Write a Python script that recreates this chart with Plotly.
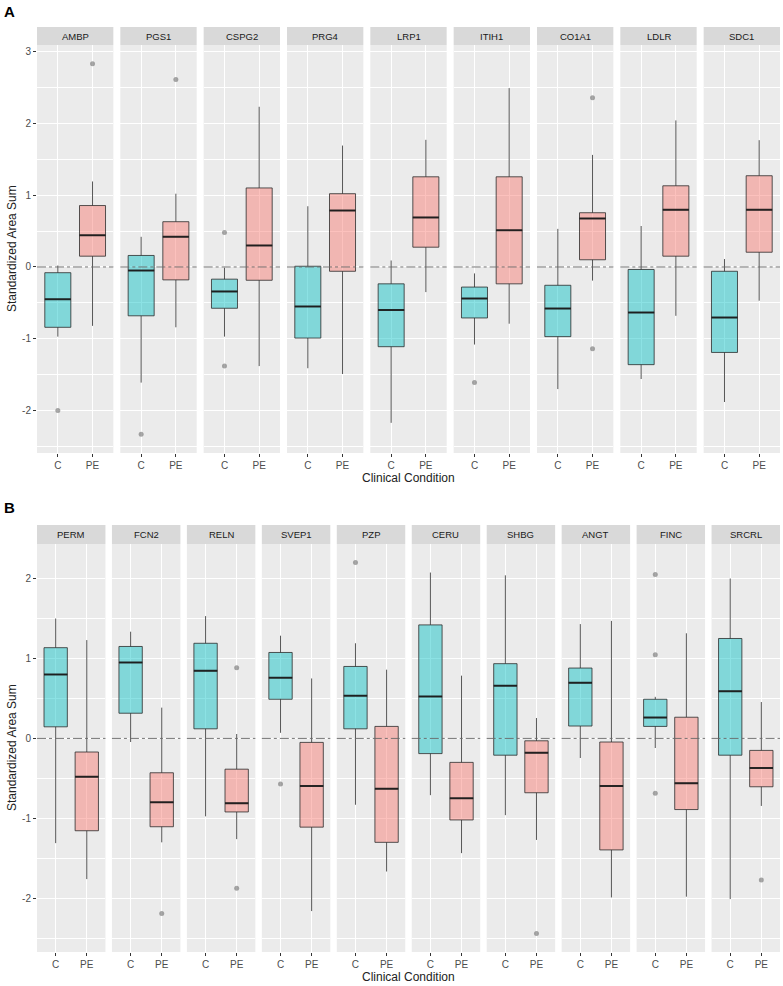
import plotly.graph_objects as go

# ---------------- data ----------------
A_GENES = ["AMBP", "PGS1", "CSPG2", "PRG4", "LRP1", "ITIH1", "CO1A1", "LDLR", "SDC1"]
A_C_LOW = [-0.97, -1.61, -0.97, -1.41, -2.17, -1.08, -1.70, -1.56, -1.88]
A_C_Q1 = [-0.84, -0.68, -0.575, -0.99, -1.11, -0.71, -0.97, -1.36, -1.19]
A_C_MED = [-0.45, -0.05, -0.34, -0.55, -0.60, -0.44, -0.58, -0.635, -0.705]
A_C_Q3 = [-0.08, 0.16, -0.17, 0.01, -0.235, -0.28, -0.255, -0.035, -0.06]
A_C_HIGH = [0.02, 0.42, -0.01, 0.845, 0.09, -0.09, 0.53, 0.57, 0.11]
A_C_OUT = [[-2.0], [-2.33], [0.48, -1.38], [], [], [-1.61], [], [], []]

A_PE_LOW = [-0.82, -0.84, -1.38, -1.49, -0.35, -0.79, -0.19, -0.68, -0.47]
A_PE_Q1 = [0.15, -0.18, -0.185, -0.06, 0.275, -0.235, 0.10, 0.15, 0.205]
A_PE_MED = [0.44, 0.42, 0.30, 0.785, 0.69, 0.51, 0.675, 0.795, 0.795]
A_PE_Q3 = [0.855, 0.63, 1.10, 1.02, 1.255, 1.255, 0.755, 1.13, 1.27]
A_PE_HIGH = [1.19, 1.02, 2.23, 1.69, 1.77, 2.49, 1.56, 2.04, 1.765]
A_PE_OUT = [[2.83], [2.61], [], [], [], [], [2.355, -1.14], [], []]

B_GENES = ["PERM", "FCN2", "RELN", "SVEP1", "PZP", "CERU", "SHBG", "ANGT", "FINC", "SRCRL"]
B_C_LOW = [-1.31, -0.045, -0.975, 0.07, -0.83, -0.71, -0.96, -0.245, -0.12, -2.01]
B_C_Q1 = [0.145, 0.315, 0.12, 0.49, 0.12, -0.19, -0.21, 0.155, 0.15, -0.21]
B_C_MED = [0.80, 0.95, 0.845, 0.76, 0.535, 0.525, 0.66, 0.695, 0.26, 0.59]
B_C_Q3 = [1.135, 1.15, 1.19, 1.075, 0.90, 1.42, 0.935, 0.88, 0.49, 1.25]
B_C_HIGH = [1.50, 1.335, 1.53, 1.285, 1.19, 2.075, 2.04, 1.43, 0.52, 2.0]
B_C_OUT = [[], [], [], [-0.57], [2.20], [], [], [], [2.05, 1.045, -0.685], []]

B_PE_LOW = [-1.76, -1.30, -1.26, -2.16, -1.665, -1.435, -1.27, -1.99, -1.98, -0.845]
B_PE_Q1 = [-1.155, -1.105, -0.92, -1.11, -1.30, -1.02, -0.68, -1.395, -0.89, -0.605]
B_PE_MED = [-0.48, -0.80, -0.81, -0.595, -0.63, -0.75, -0.18, -0.595, -0.56, -0.37]
B_PE_Q3 = [-0.17, -0.43, -0.385, -0.05, 0.15, -0.30, -0.03, -0.045, 0.265, -0.15]
B_PE_HIGH = [1.23, 0.385, 0.055, 0.75, 0.86, 0.785, 0.255, 1.47, 1.315, 0.455]
B_PE_OUT = [[], [-2.19], [0.885, -1.875], [], [], [], [-2.44], [], [], [-1.77]]

CONDITIONS = ["C", "PE"]
A_YTICKS = [-2, -1, 0, 1, 2, 3]
B_YTICKS = [-2, -1, 0, 1, 2]
X_TITLE = "Clinical Condition"
Y_TITLE = "Standardized Area Sum"

# ---------------- layout geometry (pixels) ----------------
W, H = 783, 986
LEFT, RIGHT = 37, 780
FONT = "Liberation Sans, Arial, sans-serif"
C_FILL = "rgba(0,191,196,0.45)"
PE_FILL = "rgba(248,118,109,0.45)"
EDGE = "rgba(40,40,40,0.78)"
MED = "rgba(25,25,25,0.9)"
BOXW = 0.75


def fx(p):
    return p / W


def fy(p):
    return 1 - p / H


panels = [
    dict(label="A", genes=A_GENES, yr=[-2.59, 3.09], ticks=A_YTICKS, strip=27, top=45, bot=453,
         gap=7, label_y=11, xt_y=478,
         c=(A_C_LOW, A_C_Q1, A_C_MED, A_C_Q3, A_C_HIGH, A_C_OUT),
         pe=(A_PE_LOW, A_PE_Q1, A_PE_MED, A_PE_Q3, A_PE_HIGH, A_PE_OUT)),
    dict(label="B", genes=B_GENES, yr=[-2.672, 2.432], ticks=B_YTICKS, strip=525, top=544, bot=952,
         gap=6.5, label_y=508, xt_y=977,
         c=(B_C_LOW, B_C_Q1, B_C_MED, B_C_Q3, B_C_HIGH, B_C_OUT),
         pe=(B_PE_LOW, B_PE_Q1, B_PE_MED, B_PE_Q3, B_PE_HIGH, B_PE_OUT)),
]

fig = go.Figure()
layout = {}
shapes = []
annotations = []
axis_idx = 0

for pi, P in enumerate(panels):
    yname = "y" if pi == 0 else "y2"
    ylay = "yaxis" if pi == 0 else "yaxis2"
    n = len(P["genes"])
    fw = (RIGHT - LEFT - (n - 1) * P["gap"]) / n
    first_x = None
    for gi, gene in enumerate(P["genes"]):
        axis_idx += 1
        xname = "x" if axis_idx == 1 else f"x{axis_idx}"
        xlay = "xaxis" if axis_idx == 1 else f"xaxis{axis_idx}"
        if first_x is None:
            first_x = xname
        x0 = LEFT + gi * (fw + P["gap"])
        x1 = x0 + fw
        layout[xlay] = dict(
            domain=[fx(x0), fx(x1)], range=[-0.6, 1.6], anchor=yname,
            tickmode="array", tickvals=[0, 1], ticktext=CONDITIONS,
            showgrid=True, gridcolor="white", gridwidth=1.1, zeroline=False,
            ticks="outside", ticklen=3, tickcolor="#333333", tickwidth=1,
            tickfont=dict(size=10, color="#4D4D4D", family=FONT),
            showline=False, fixedrange=True,
        )
        for ci, (stats, fill) in enumerate([(P["c"], C_FILL), (P["pe"], PE_FILL)]):
            lo, q1, med, q3, hi, outs = stats
            fig.add_trace(go.Box(
                x=[ci], q1=[q1[gi]], median=[med[gi]], q3=[q3[gi]],
                lowerfence=[lo[gi]], upperfence=[hi[gi]],
                width=BOXW, whiskerwidth=0, fillcolor=fill,
                line=dict(color=EDGE, width=1), boxpoints=False,
                xaxis=xname, yaxis=yname, showlegend=False, hoverinfo="skip",
            ))
            fig.add_trace(go.Scatter(
                x=[ci - BOXW / 2, ci + BOXW / 2], y=[med[gi], med[gi]], mode="lines",
                line=dict(color=MED, width=2), xaxis=xname, yaxis=yname,
                showlegend=False, hoverinfo="skip",
            ))
            if outs[gi]:
                fig.add_trace(go.Scatter(
                    x=[ci] * len(outs[gi]), y=outs[gi], mode="markers",
                    marker=dict(size=5, color="rgba(110,110,110,0.6)", line=dict(width=0)),
                    xaxis=xname, yaxis=yname, showlegend=False, hoverinfo="skip",
                ))
        # dash-dot reference line at 0
        shapes.append(dict(type="line", xref=f"{xname} domain", x0=0, x1=1,
                           yref=yname, y0=0, y1=0,
                           line=dict(color="#666666", width=0.9, dash="dashdot"), layer="above"))
        # strip
        shapes.append(dict(type="rect", xref="paper", yref="paper",
                           x0=fx(x0), x1=fx(x1), y0=fy(P["top"]), y1=fy(P["strip"]),
                           fillcolor="#D9D9D9", line=dict(width=0), layer="below"))
        annotations.append(dict(text=gene, xref="paper", yref="paper",
                                x=fx((x0 + x1) / 2), y=fy((P["top"] + P["strip"]) / 2),
                                showarrow=False, xanchor="center", yanchor="middle",
                                font=dict(size=9.5, color="#1A1A1A", family=FONT)))
    minor_vals = [t + 0.5 for t in range(int(P["yr"][0]) - 1, int(P["yr"][1]) + 1)]
    layout[ylay] = dict(
        domain=[fy(P["bot"]), fy(P["top"])], range=P["yr"], anchor=first_x,
        tickmode="array", tickvals=P["ticks"], ticktext=[str(t) for t in P["ticks"]],
        showgrid=True, gridcolor="white", gridwidth=1.1, zeroline=False,
        minor=dict(tickmode="array", tickvals=minor_vals, showgrid=True,
                   gridcolor="white", gridwidth=0.5, ticks=""),
        ticks="outside", ticklen=3, tickcolor="#333333", tickwidth=1,
        tickfont=dict(size=10, color="#4D4D4D", family=FONT),
        showline=False, fixedrange=True,
    )
    annotations.append(dict(text=X_TITLE, xref="paper", yref="paper",
                            x=fx((LEFT + RIGHT) / 2), y=fy(P["xt_y"]), showarrow=False,
                            xanchor="center", yanchor="middle",
                            font=dict(size=12, color="#222222", family=FONT)))
    annotations.append(dict(text=Y_TITLE, xref="paper", yref="paper",
                            x=fx(12), y=fy((P["top"] + P["bot"]) / 2), showarrow=False,
                            textangle=-90, xanchor="center", yanchor="middle",
                            font=dict(size=12, color="#222222", family=FONT)))
    annotations.append(dict(text=f"<b>{P['label']}</b>", xref="paper", yref="paper",
                            x=fx(2), y=fy(P["label_y"]), showarrow=False,
                            xanchor="left", yanchor="middle",
                            font=dict(size=15, color="#000000", family=FONT)))

fig.update_layout(
    width=W, height=H, margin=dict(l=0, r=0, t=0, b=0),
    paper_bgcolor="white", plot_bgcolor="#EBEBEB",
    shapes=shapes, annotations=annotations, showlegend=False,
    font=dict(family=FONT), **layout,
)

fig.write_html("out.html", config={"displayModeBar": False},
               post_script="document.body.style.margin='0';")
